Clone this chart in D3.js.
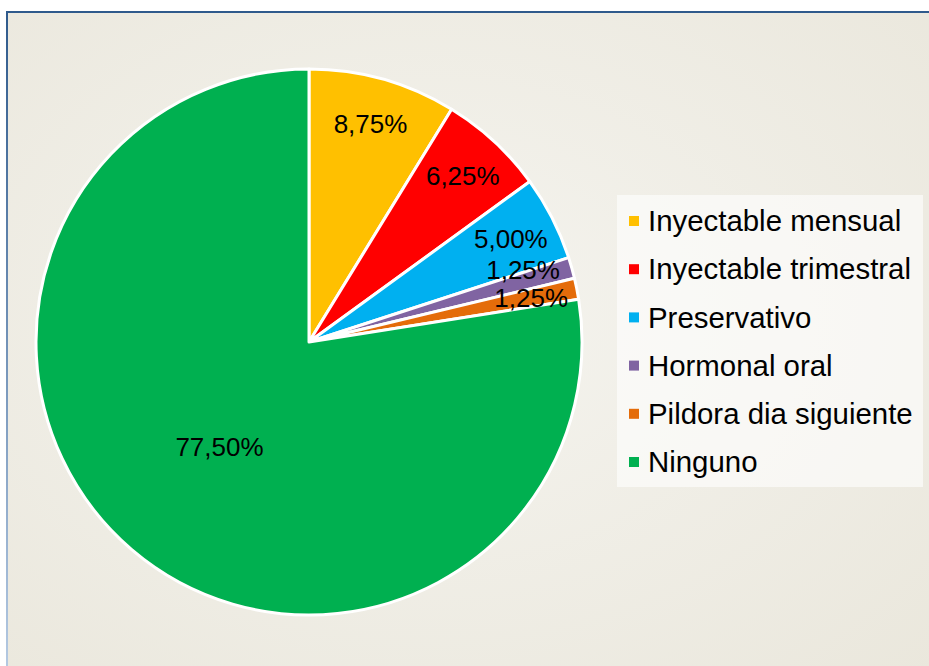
<!DOCTYPE html>
<html>
<head>
<meta charset="utf-8">
<script src="https://cdn.jsdelivr.net/npm/d3@7"></script>
<style>
  body { margin: 0; background: #ffffff; }
  text { font-family: "Liberation Sans", Arial, sans-serif; }
</style>
</head>
<body>
<svg id="canvas" width="929" height="666"></svg>
<script>
// data
var categories = ['Inyectable mensual', 'Inyectable trimestral', 'Preservativo',
  'Hormonal oral', 'Pildora dia siguiente', 'Ninguno'];
var values = [8.75, 6.25, 5.00, 1.25, 1.25, 77.50];
var labels = ['8,75%', '6,25%', '5,00%', '1,25%', '1,25%', '77,50%'];
var colors = ['#FFC000', '#FF0000', '#00B0F0', '#8064A2', '#E46C0A', '#00B050'];

var canvas = d3.select('#canvas');
var width = +canvas.attr('width');
var height = +canvas.attr('height');

var defs = canvas.append('defs');

// soft radial background like the office chart area
var bg = defs.append('radialGradient').attr('id', 'bgGrad')
  .attr('cx', '0.45').attr('cy', '0.45').attr('r', '0.75');
bg.append('stop').attr('offset', '0%').attr('stop-color', '#F5F4EF');
bg.append('stop').attr('offset', '100%').attr('stop-color', '#EAE7DC');

// border fades from dark blue at top to light blue at bottom
var bd = defs.append('linearGradient').attr('id', 'borderGrad')
  .attr('x1', 0).attr('y1', 0).attr('x2', 0).attr('y2', 1);
bd.append('stop').attr('offset', '0%').attr('stop-color', '#2F5A8C');
bd.append('stop').attr('offset', '100%').attr('stop-color', '#B9CDE5');

canvas.append('rect')
  .attr('x', 7)
  .attr('y', 12)
  .attr('width', 940)
  .attr('height', 680)
  .style('fill', 'url(#bgGrad)')
  .style('stroke', 'url(#borderGrad)')
  .style('stroke-width', 2);

// pie
var cx = 309, cy = 342, radius = 273;

var pie = d3.pie().sort(null).value(function(d) { return d; });
var arcs = pie(values);

var arc = d3.arc().innerRadius(0).outerRadius(radius);

var g = canvas.append('g')
  .attr('transform', 'translate(' + cx + ',' + cy + ')');

g.selectAll('path.slice')
  .data(arcs)
  .enter()
  .append('path')
  .attr('class', 'slice')
  .attr('d', arc)
  .style('fill', function(d, i) { return colors[i]; })
  .style('stroke', '#ffffff')
  .style('stroke-width', 3)
  .style('stroke-linejoin', 'round');

// labels: small slices near the edge, big slice nearer the middle
var labelPos = arcs.map(function(d) {
  var r = d.value < 10 ? radius * 0.83 : radius * 0.505;
  return d3.arc().innerRadius(r).outerRadius(r).centroid(d);
});
// crude best-fit: push a label up when it sits too close to the next one
var minGap = 28;
for (var i = labelPos.length - 2; i >= 0; i--) {
  var a = labelPos[i], b = labelPos[i + 1];
  if (Math.abs(a[0] - b[0]) < 60 && b[1] - a[1] < minGap && b[1] > a[1]) {
    a[1] = b[1] - minGap;
    a[0] -= 4;
  }
}

g.selectAll('text.lbl')
  .data(arcs)
  .enter()
  .append('text')
  .attr('class', 'lbl')
  .attr('x', function(d, i) { return labelPos[i][0]; })
  .attr('y', function(d, i) { return labelPos[i][1]; })
  .attr('dy', '0.35em')
  .attr('text-anchor', 'middle')
  .style('font-size', '26px')
  .style('fill', '#000000')
  .text(function(d, i) { return labels[i]; });

// legend
var legend = canvas.append('g');

legend.append('rect')
  .attr('x', 617)
  .attr('y', 195)
  .attr('width', 306)
  .attr('height', 292)
  .style('fill', '#ffffff')
  .style('opacity', 0.6);

var rowY = d3.scalePoint()
  .domain(categories)
  .range([221, 462]);

var items = legend.selectAll('g.item')
  .data(categories)
  .enter()
  .append('g')
  .attr('class', 'item')
  .attr('transform', function(d) { return 'translate(0,' + rowY(d) + ')'; });

items.append('rect')
  .attr('x', 629)
  .attr('y', -5)
  .attr('width', 10)
  .attr('height', 10)
  .style('fill', function(d, i) { return colors[i]; });

items.append('text')
  .attr('x', 648)
  .attr('y', 0)
  .attr('dy', '0.35em')
  .style('font-size', '29.4px')
  .style('fill', '#000000')
  .text(function(d) { return d; });
</script>
</body>
</html>
